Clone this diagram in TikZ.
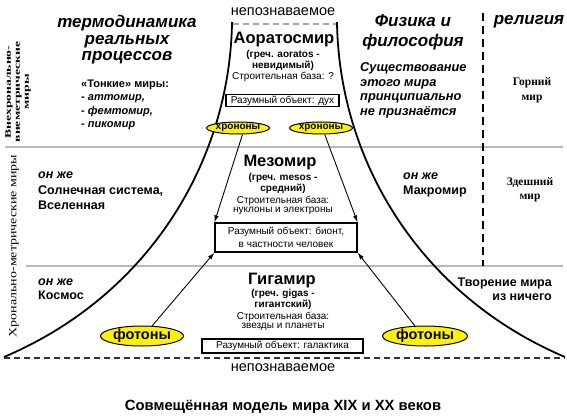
\documentclass[tikz,border=0pt]{standalone}
\usepackage{fontspec}
\setmainfont{Liberation Sans}
\newfontfamily\serifru{Liberation Serif}
\usetikzlibrary{arrows.meta,shapes.geometric}
\newcommand{\fsz}[2]{\fontsize{#1pt}{#2pt}\selectfont}
\begin{document}
\begin{tikzpicture}[x=1pt,y=-1pt,
  head/.style={font=\bfseries\itshape\fsz{17}{16.5}, align=center, inner sep=0pt},
  ttl/.style={font=\bfseries\fsz{16.5}{18}, inner sep=0pt},
  sub/.style={font=\bfseries\fsz{10}{11}, inner sep=0pt},
  basetxt/.style={font=\fsz{10}{11}, inner sep=0pt},
  objbox/.style={draw, line width=1.2pt, font=\fsz{10}{12.5}, align=center, inner sep=1pt},
  bodytxt/.style={font=\bfseries\fsz{12.5}{15.5}, align=left, inner sep=0pt},
  sertxt/.style={font=\serifru\bfseries\fsz{11.5}{15}, align=center, inner sep=0pt},
  particle/.style={ellipse, draw, fill=yellow, line width=1pt, inner sep=0pt, font=\bfseries},
  thinarrow/.style={line width=0.9pt, -{Latex[length=7pt,width=4.5pt]}},
  outer/.style={line width=1.8pt, black},
  sepline/.style={line width=1.5pt, gray!55},
]
\useasboundingbox (0,0) rectangle (567,417);

% separating lines
\draw[sepline] (5,147) -- (563,147);
\draw[sepline] (26,266) -- (563,266);
\draw[line width=1.3pt, dash pattern=on 8pt off 5pt] (483,13) -- (483,266);
\draw[line width=1.1pt, gray!70, dash pattern=on 6pt off 4pt] (233,24) -- (336,24);
\draw[line width=1.1pt, black!80, dash pattern=on 6pt off 4pt] (4,358) -- (565,358);

% outer curves
\draw[outer] (232,22) .. controls (230,160) and (150,295) .. (4,357);
\draw[outer] (337,22) .. controls (339,160) and (419,295) .. (565,357);

% vertical side labels
\node[rotate=90, inner sep=0pt] (lab1) at (18,92)
  {\scalebox{1.6}[1]{\serifru\bfseries\fsz{8.5}{9}\begin{tabular}{@{}c@{}}Внехронально-\\внеметрические\\миры\end{tabular}}};
\node[rotate=90, inner sep=0pt] (lab2) at (14,246)
  {\scalebox{1.27}[1]{\serifru\fsz{11}{12}Хронально-метрические миры}};

% headings
\node[head] (h1) at (127,40) {термодинамика\\реальных\\процессов};
\node[head, font=\bfseries\itshape\fsz{17}{20}] (h2) at (413,32) {Физика и\\философия};
\node[head] (h3) at (529,22) {религия};

% top / bottom
\node[font=\fsz{14.5}{16}, inner sep=0pt] (unk1) at (283,12) {непознаваемое};
\node[font=\fsz{14.5}{16}, inner sep=0pt] (unk2) at (283,368) {непознаваемое};
\node[font=\bfseries\fsz{14.8}{16}, inner sep=0pt] (cap) at (283,407) {Совмещённая модель мира XIX и XX веков};

% Aoratosmir
\node[ttl] (ao) at (284,40) {Аоратосмир};
\node[sub] (ao1) at (283,55) {(греч. aoratos -};
\node[sub] (ao2) at (283,65.5) {невидимый)};
\node[basetxt] (ao3) at (283,77) {Строительная база: ?};
\node[objbox, minimum width=113, minimum height=11] (aobox) at (282.5,100.5) {Разумный объект: дух};

% Mesomir
\node[ttl] (me) at (280,163) {Мезомир};
\node[sub] (me1) at (283,178) {(греч. mesos -};
\node[sub] (me2) at (283,188.5) {средний)};
\node[basetxt] (me3) at (283,200.5) {Строительная база:};
\node[basetxt] (me4) at (283,211) {нуклоны и электроны};
\node[objbox, minimum width=142, minimum height=29] (mbox) at (286,237.5) {Разумный объект: бионт,\\в частности человек};

% Gigamir
\node[ttl] (gi) at (282,281) {Гигамир};
\node[sub] (gi1) at (283,294) {(греч. gigas -};
\node[sub] (gi2) at (283,304.5) {гигантский)};
\node[basetxt] (gi3) at (283,316.5) {Строительная база:};
\node[basetxt] (gi4) at (283,327) {звезды и планеты};
\node[objbox, minimum width=161, minimum height=14] (gbox) at (282.5,346) {Разумный объект: галактика};

% particles
\node[particle, minimum width=52, minimum height=12, font=\bfseries\fsz{10}{11}] (hl) at (238,128) {хрононы};
\node[particle, minimum width=52, minimum height=12, font=\bfseries\fsz{10}{11}] (hr) at (321,128) {хрононы};
\node[particle, minimum width=83, minimum height=20, font=\bfseries\fsz{14.5}{16}] (fl) at (142,336) {фотоны};
\node[particle, minimum width=85, minimum height=20, font=\bfseries\fsz{14.5}{16}] (fr) at (425,336) {фотоны};

% arrows
\draw[thinarrow] (hl.-55) -- (mbox.north west);
\draw[thinarrow] (hr.-60) -- (mbox.north east);
\draw[thinarrow] (fl.45) -- (mbox.south west);
\draw[thinarrow] (fr.135) -- (mbox.south east);

% left column texts
\node[bodytxt, font=\bfseries\fsz{11}{13.3}, anchor=west] (thin) at (81,105)
  {«Тонкие» миры:\\- \textit{аттомир,}\\- \textit{фемтомир,}\\- \textit{пикомир}};
\node[bodytxt, anchor=west] (sol) at (38,191) {\textit{он же}\\Солнечная система,\\Вселенная};
\node[bodytxt, font=\bfseries\fsz{12.5}{13.5}, anchor=west] (kos) at (38,289) {\textit{он же}\\Космос};

% physics column texts
\node[bodytxt, font=\bfseries\itshape\fsz{12.8}{14.7}, anchor=west] (phil) at (360,90.5)
  {Существование\\этого мира\\принципиально\\не признаётся};
\node[bodytxt, font=\bfseries\fsz{12.5}{15}, anchor=west] (mak) at (403,184.5) {\textit{он же}\\Макромир};
\node[bodytxt, align=right, font=\bfseries\fsz{12.5}{13.5}, anchor=east] (tvor) at (552,289.5) {Творение мира\\из ничего};

% religion column texts
\node[sertxt] (gor) at (532,90.5) {Горний\\мир};
\node[sertxt, font=\serifru\bfseries\fsz{11.5}{14}] (zd) at (530,190) {Здешний\\мир};
\end{tikzpicture}
\end{document}
